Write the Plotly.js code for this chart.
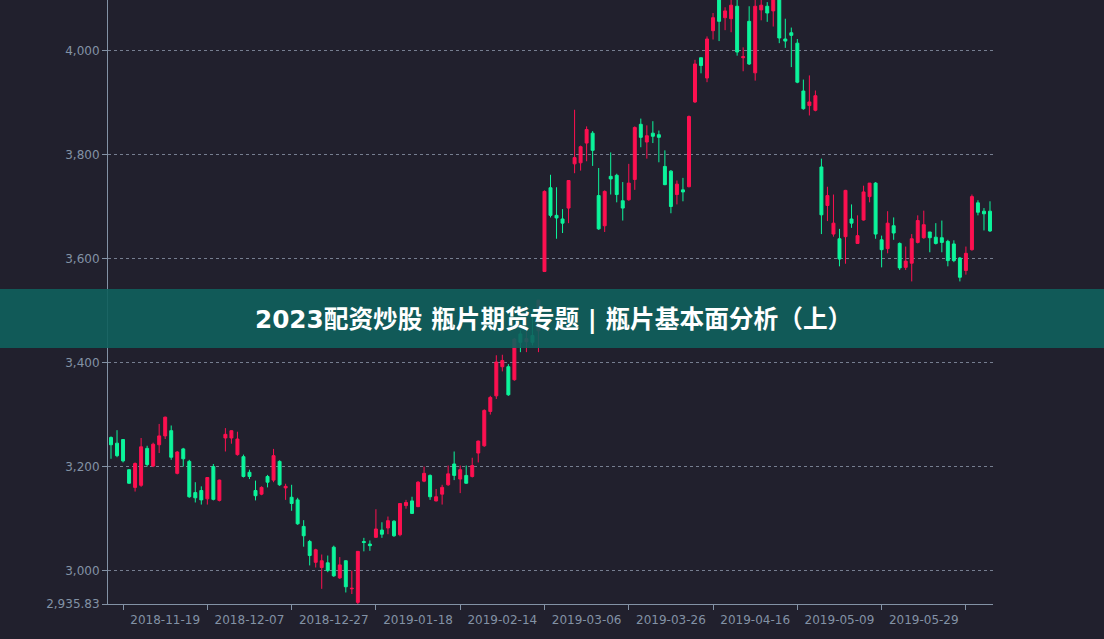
<!DOCTYPE html>
<html>
<head>
<meta charset="utf-8">
<script src="https://cdn.plot.ly/plotly-3.0.1.min.js"></script>
<style>
  html, body { margin: 0; padding: 0; background: #21202D; }
  #chart { width: 1104px; height: 639px; }
</style>
</head>
<body>
<div id="chart"></div>
<script>
// Trading days (categories)
const dates = [
  '2018-11-06','2018-11-07','2018-11-08','2018-11-09','2018-11-12','2018-11-13','2018-11-14','2018-11-15','2018-11-16',
  '2018-11-19','2018-11-20','2018-11-21','2018-11-22','2018-11-23','2018-11-26','2018-11-27','2018-11-28','2018-11-29','2018-11-30',
  '2018-12-03','2018-12-04','2018-12-05','2018-12-06','2018-12-07','2018-12-10','2018-12-11','2018-12-12','2018-12-13','2018-12-14',
  '2018-12-17','2018-12-18','2018-12-19','2018-12-20','2018-12-21','2018-12-24','2018-12-25','2018-12-26','2018-12-27','2018-12-28',
  '2019-01-02','2019-01-03','2019-01-04','2019-01-07','2019-01-08','2019-01-09','2019-01-10','2019-01-11','2019-01-14','2019-01-15',
  '2019-01-16','2019-01-17','2019-01-18','2019-01-21','2019-01-22','2019-01-23','2019-01-24','2019-01-25','2019-01-28','2019-01-29',
  '2019-01-30','2019-01-31','2019-02-01','2019-02-11','2019-02-12','2019-02-13','2019-02-14','2019-02-15','2019-02-18','2019-02-19',
  '2019-02-20','2019-02-21','2019-02-22','2019-02-25','2019-02-26','2019-02-27','2019-02-28','2019-03-01','2019-03-04','2019-03-05',
  '2019-03-06','2019-03-07','2019-03-08','2019-03-11','2019-03-12','2019-03-13','2019-03-14','2019-03-15','2019-03-18','2019-03-19',
  '2019-03-20','2019-03-21','2019-03-22','2019-03-25','2019-03-26','2019-03-27','2019-03-28','2019-03-29','2019-04-01','2019-04-02',
  '2019-04-03','2019-04-04','2019-04-08','2019-04-09','2019-04-10','2019-04-11','2019-04-12','2019-04-15','2019-04-16','2019-04-17',
  '2019-04-18','2019-04-19','2019-04-22','2019-04-23','2019-04-24','2019-04-25','2019-04-26','2019-04-29','2019-04-30','2019-05-06',
  '2019-05-07','2019-05-08','2019-05-09','2019-05-10','2019-05-13','2019-05-14','2019-05-15','2019-05-16','2019-05-17','2019-05-20',
  '2019-05-21','2019-05-22','2019-05-23','2019-05-24','2019-05-27','2019-05-28','2019-05-29','2019-05-30','2019-05-31','2019-06-03',
  '2019-06-04','2019-06-05','2019-06-06','2019-06-10','2019-06-11','2019-06-12','2019-06-13','2019-06-14'
];

const openVals = [
  3256,3245,3252,3194,3160,3164,3235,3201,3242,3259,3269,3187,3234,3210,3150,3154,3138,3200,3135,
  3255,3255,3223,3219,3189,3154,3147,3181,3174,3210,3159,3141,3136,3085,3056,3016,3006,3015,3045,2986,
  3019,2965,2939,3056,3051,3064,3078,3082,3095,3069,3125,3134,3123,3172,3183,3134,3147,3165,3205,3176,
  3183,3181,3226,3240,3306,3336,3392,3392,3367,3455,3440,3452,3461,3575,3736,3683,3676,3697,3782,3784,
  3822,3841,3721,3663,3758,3760,3711,3713,3752,3858,3824,3841,3838,3777,3768,3723,3732,3738,3901,3986,
  3947,4038,4110,4063,4061,4085,3986,4056,3957,4078,4085,4076,4110,4022,4034,4014,3922,3894,3885,3776,
  3702,3647,3638,3642,3676,3629,3674,3719,3745,3636,3619,3663,3629,3583,3591,3631,3640,3651,3641,3640,
  3633,3628,3601,3577,3617,3707,3691,3691
];
const highVals = [
  3258,3270,3253,3195,3208,3255,3240,3246,3282,3296,3279,3230,3236,3213,3170,3162,3180,3205,3175,
  3274,3270,3267,3223,3194,3173,3162,3184,3234,3212,3167,3165,3140,3097,3059,3042,3031,3029,3048,3026,
  3020,3000,3037,3063,3058,3118,3093,3104,3097,3130,3136,3142,3172,3200,3185,3157,3165,3202,3229,3202,
  3202,3217,3250,3310,3336,3414,3415,3397,3447,3462,3471,3500,3520,3731,3761,3737,3695,3750,3886,3817,
  3854,3845,3774,3731,3804,3763,3747,3782,3854,3869,3856,3864,3846,3808,3770,3750,3755,3875,3982,3986,
  4027,4072,4120,4083,4100,4105,4006,4085,4100,4100,4093,4115,4120,4061,4044,4022,3944,3952,3923,3792,
  3738,3723,3657,3732,3704,3683,3740,3745,3747,3644,3691,3679,3631,3623,3647,3683,3692,3651,3668,3673,
  3636,3635,3603,3623,3723,3712,3697,3710
];
const lowVals = [
  3215,3218,3208,3167,3152,3161,3200,3199,3226,3253,3213,3185,3200,3140,3131,3127,3127,3135,3133,
  3229,3244,3221,3179,3176,3135,3145,3160,3170,3163,3136,3115,3088,3046,3010,3006,2965,2997,2988,2984,
  2958,2955,2935.83,3037,3038,3063,3063,3070,3065,3066,3119,3109,3122,3170,3136,3133,3127,3163,3174,3149,
  3167,3179,3208,3238,3300,3330,3383,3336,3365,3420,3420,3433,3420,3574,3679,3638,3649,3668,3764,3769,
  3787,3778,3655,3651,3723,3708,3673,3711,3732,3814,3792,3822,3785,3741,3687,3704,3710,3737,3899,3956,
  3939,4021,4018,4039,4035,3990,3960,3972,3942,4058,4055,4046,4014,4005,3968,3937,3886,3875,3883,3647,
  3672,3642,3585,3590,3659,3629,3673,3708,3638,3583,3610,3636,3578,3578,3556,3629,3638,3612,3627,3612,
  3585,3593,3556,3569,3615,3683,3654,3651
];
const closeVals = [
  3242,3221,3211,3168,3206,3238,3204,3243,3259,3295,3218,3228,3215,3142,3140,3136,3179,3137,3174,
  3262,3269,3253,3181,3181,3144,3160,3170,3221,3165,3162,3129,3090,3067,3029,3040,3019,3000,2990,3011,
  2969,2966,3037,3054,3048,3080,3070,3096,3067,3129,3131,3110,3170,3187,3142,3142,3160,3186,3183,3194,
  3168,3202,3249,3308,3333,3401,3404,3338,3445,3439,3446,3439,3520,3729,3683,3678,3668,3750,3794,3815,
  3848,3808,3657,3729,3753,3723,3697,3745,3852,3833,3836,3835,3833,3742,3700,3743,3728,3873,3974,3971,
  4022,4063,4056,4076,4087,3997,3988,3974,4085,4087,4072,4105,4024,4018,4029,3939,3888,3901,3913,3684,
  3721,3668,3599,3731,3668,3644,3728,3745,3647,3617,3668,3649,3582,3595,3638,3673,3665,3640,3629,3631,
  3596,3596,3564,3610,3719,3689,3686,3653
];

// Axis labels
const xLabelDates = ['2018-11-19','2018-12-07','2018-12-27','2019-01-18','2019-02-14',
                     '2019-03-06','2019-03-26','2019-04-16','2019-05-09','2019-05-29'];
const yTickVals = [2935.83, 3000, 3200, 3400, 3600, 3800, 4000];
const yTickText = ['2,935.83', '3,000', '3,200', '3,400', '3,600', '3,800', '4,000'];

const bannerText = '2023配资炒股 瓶片期货专题 | 瓶片基本面分析（上）';

// ---- build ----
const xIdx = dates.map((d, i) => i);
const labelIdx = xLabelDates.map(d => dates.indexOf(d));
const minorIdx = labelIdx.map(v => v - 7).concat([labelIdx[labelIdx.length - 1] + 7]);

const axisColor = '#8392A5';
const tickFont = { family: 'DejaVu Sans, sans-serif', size: 12, color: axisColor };

const trace = {
  type: 'candlestick',
  x: xIdx,
  open: openVals, high: highVals, low: lowVals, close: closeVals,
  text: dates,
  increasing: { line: { color: '#FD1050', width: 1 }, fillcolor: '#FD1050' },
  decreasing: { line: { color: '#0CF49B', width: 1 }, fillcolor: '#0CF49B' },
  whiskerwidth: 0,
  showlegend: false
};

const layout = {
  width: 1104, height: 639,
  paper_bgcolor: '#21202D', plot_bgcolor: '#21202D',
  margin: { l: 108, r: 111, t: 0, b: 35, pad: 0 },
  showlegend: false,
  xaxis: {
    type: 'linear',
    range: [-0.5, dates.length - 0.5],
    tickmode: 'array', tickvals: labelIdx, ticktext: xLabelDates,
    ticks: 'outside', ticklen: 5, tickcolor: 'rgba(0,0,0,0)',
    minor: { tickmode: 'array', tickvals: minorIdx, ticks: 'outside', ticklen: 5,
             tickcolor: axisColor, tickwidth: 1, showgrid: false },
    showgrid: false, zeroline: false,
    showline: true, linecolor: axisColor, linewidth: 1,
    tickfont: tickFont,
    rangeslider: { visible: false },
    fixedrange: true
  },
  yaxis: {
    range: [2935.83, 4097],
    tickmode: 'array', tickvals: yTickVals, ticktext: yTickText,
    ticks: 'outside', ticklen: 5, tickcolor: axisColor,
    showgrid: true, gridcolor: '#767e90', griddash: '3px,3px', gridwidth: 1,
    zeroline: false,
    showline: true, linecolor: axisColor, linewidth: 1,
    tickfont: tickFont,
    fixedrange: true
  },
  shapes: [{
    type: 'rect', xref: 'paper', yref: 'paper',
    x0: -108 / 885, x1: 996 / 885,
    y0: 1 - 348 / 604, y1: 1 - 289 / 604,
    fillcolor: 'rgba(15,97,93,0.9)', line: { width: 0 }, layer: 'above'
  }],
  annotations: [{
    xref: 'paper', yref: 'paper',
    x: (553 - 108) / 885, y: 1 - 319 / 604,
    xanchor: 'center', yanchor: 'middle',
    text: '<b>' + bannerText + '</b>',
    showarrow: false,
    font: { family: 'DejaVu Sans, Noto Sans CJK SC, sans-serif', size: 24.7, color: '#ffffff' }
  }]
};

Plotly.newPlot('chart', [trace], layout, { displayModeBar: false, staticPlot: true });
</script>
</body>
</html>
